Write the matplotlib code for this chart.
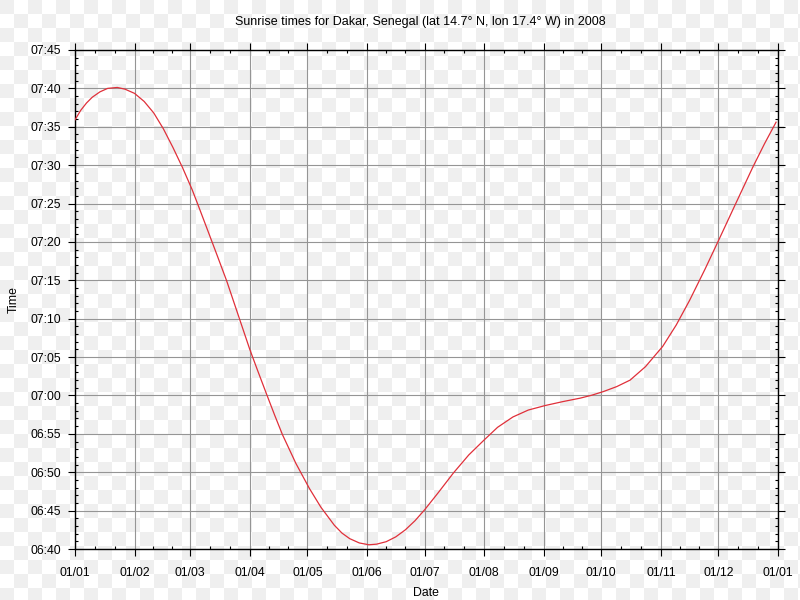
import matplotlib
matplotlib.use('Agg')
import matplotlib.pyplot as plt
import matplotlib.dates as mdates
from matplotlib.ticker import MultipleLocator, FuncFormatter, FixedLocator
import numpy as np
import pandas as pd

# sunrise times (minutes after midnight)
dates = ['2008-01-01', '2008-01-04', '2008-01-07', '2008-01-10', '2008-01-14',
         '2008-01-18', '2008-01-23', '2008-01-27', '2008-02-01', '2008-02-06',
         '2008-02-11', '2008-02-16', '2008-02-21', '2008-02-26', '2008-03-02',
         '2008-03-06', '2008-03-11', '2008-03-15', '2008-03-20', '2008-03-26',
         '2008-04-01', '2008-04-05', '2008-04-10', '2008-04-14', '2008-04-18',
         '2008-04-25', '2008-05-02', '2008-05-08', '2008-05-15', '2008-05-19',
         '2008-05-23', '2008-05-28', '2008-06-02', '2008-06-06', '2008-06-11',
         '2008-06-16', '2008-06-21', '2008-06-26', '2008-07-01', '2008-07-08',
         '2008-07-16', '2008-07-24', '2008-08-01', '2008-08-08', '2008-08-16',
         '2008-08-24', '2008-09-02', '2008-09-11', '2008-09-20', '2008-09-26',
         '2008-10-02', '2008-10-09', '2008-10-16', '2008-10-24', '2008-11-02',
         '2008-11-09', '2008-11-16', '2008-11-24', '2008-12-02', '2008-12-10',
         '2008-12-19', '2008-12-25', '2008-12-31']
sunrise = [455.9, 457.15, 458.1, 458.85, 459.55,
           460.0, 460.12, 459.9, 459.35, 458.3,
           456.8, 454.74, 452.3, 449.67, 446.8,
           444.2, 440.9, 438.25, 434.9, 430.45,
           426.0, 423.3, 420.0, 417.4, 414.9,
           411.15, 407.9, 405.45, 403.1, 402.07,
           401.35, 400.79, 400.55, 400.63, 400.95,
           401.58, 402.5, 403.68, 405.1, 407.3,
           409.9, 412.25, 414.2, 415.85, 417.2,
           418.1, 418.7, 419.2, 419.65, 420.03,
           420.5, 421.15, 422.0, 423.75, 426.4,
           429.17, 432.4, 436.45, 440.7, 445.0,
           449.8, 452.8, 455.6]

title = 'Sunrise times for Dakar, Senegal (lat 14.7° N, lon 17.4° W) in 2008'

x = pd.to_datetime(dates)

plt.rcParams['font.family'] = ['Liberation Sans', 'DejaVu Sans']

fig = plt.figure(figsize=(8, 6), dpi=100)
fig.patch.set_facecolor('white')

# checkerboard backdrop
sq = 14
yy, xx = np.mgrid[0:600, 0:800]
checker = ((xx // sq + yy // sq) % 2 == 0)
bg = np.ones((600, 800, 3))
bg[checker] = 0.94
fig.figimage(bg, 0, 0, zorder=-5)

ax = fig.add_axes([0.09375, 0.085, 0.87875, 0.83167])
ax.patch.set_alpha(0)

ax.plot(x, sunrise, color='#e0303a', linewidth=0.9, zorder=3)

month_starts = pd.date_range('2008-01-01', '2009-01-01', freq='MS')
mnum = mdates.date2num(month_starts)
minor = []
for a, b in zip(mnum[:-1], mnum[1:]):
    minor += [a + (b - a) / 3, a + 2 * (b - a) / 3]

ax.set_xlim(mnum[0], mnum[-1])
ax.set_ylim(400, 465)

ax.xaxis.set_major_locator(FixedLocator(mnum))
ax.xaxis.set_minor_locator(FixedLocator(minor))
ax.xaxis.set_major_formatter(mdates.DateFormatter('%d/%m'))

ax.yaxis.set_major_locator(MultipleLocator(5))
ax.yaxis.set_minor_locator(MultipleLocator(1))
ax.yaxis.set_major_formatter(FuncFormatter(
    lambda v, p: '%02d:%02d' % (int(round(v)) // 60, int(round(v)) % 60)))

ax.tick_params(which='major', direction='out', length=5, width=0.8,
               top=True, right=True, labelsize=8.8, pad=5)
ax.tick_params(axis='x', which='major', pad=8)
ax.tick_params(which='minor', direction='in', length=2.5, width=0.8,
               top=True, right=True)

ax.grid(which='major', color='#959595', linewidth=0.8)
for s in ax.spines.values():
    s.set_linewidth(1.0)

fig.text(0.525, 0.964, title, ha='center', va='center', fontsize=9)
fig.text(0.533, 0.012, 'Date', ha='center', va='center', fontsize=8.8)
fig.text(0.0175, 0.5, 'Time', ha='center', va='center', rotation=90, fontsize=8.8)

fig.savefig('out.png', dpi=100)
